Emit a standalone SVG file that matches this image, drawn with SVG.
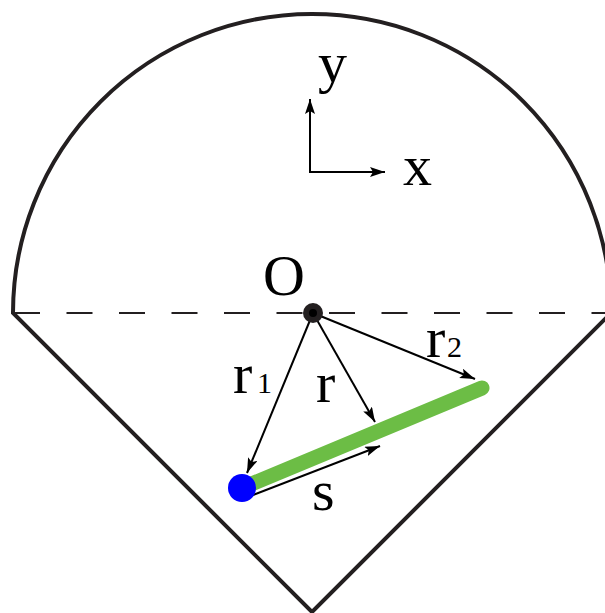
<svg xmlns="http://www.w3.org/2000/svg" width="605" height="613" viewBox="0 0 605 613">
<defs>
<style>
.lbl{font-family:"Liberation Serif","Times New Roman",serif;fill:#000}
.big{font-size:58px}
.sub{font-size:30px}
.arr{stroke:#000;stroke-width:2;fill:none;marker-end:url(#ah)}
</style>
<marker id="ah" markerUnits="userSpaceOnUse" markerWidth="16" markerHeight="12" refX="15" refY="5" orient="auto">
<path d="M0,0 L15,5 L0,10 L3,5 z" fill="#000"/>
</marker>
</defs>
<rect width="605" height="613" fill="#fff"/>
<g id="boundary">
<path d="M13,313 A299,299 0 0 1 611,313 L312,612 Z" fill="none" stroke="#231f20" stroke-width="4" stroke-linejoin="miter"/>
<line x1="14" y1="313" x2="605" y2="313" stroke="#231f20" stroke-width="2" stroke-dasharray="26 26.5"/>
</g>
<g id="axes">
<line class="arr" x1="310" y1="172" x2="310" y2="99"/>
<line class="arr" x1="309" y1="172" x2="385" y2="172"/>
<text class="lbl big" x="318" y="82">y</text>
<text class="lbl big" x="403" y="185">x</text>
</g>
<g id="segment">
<line x1="242" y1="488" x2="482" y2="388" stroke="#6cbd45" stroke-width="15" stroke-linecap="round"/>
</g>
<g id="connectors">
<line class="arr" x1="313" y1="313" x2="247" y2="473"/>
<line class="arr" x1="313" y1="313" x2="375" y2="422"/>
<line class="arr" x1="313" y1="313" x2="475" y2="379"/>
<line class="arr" x1="248" y1="497" x2="380" y2="446"/>
</g>
<g id="origin">
<circle cx="313" cy="313" r="10" fill="#231f20"/>
<circle cx="313" cy="313" r="4" fill="#000"/>
<text class="lbl big" x="263" y="295">O</text>
</g>
<g id="start">
<circle cx="242" cy="488" r="14" fill="#0000ff"/>
</g>
<g id="labels">
<text class="lbl big" x="233" y="393">r</text><text class="lbl sub" x="257" y="393">1</text>
<text class="lbl big" x="316" y="402">r</text>
<text class="lbl big" x="426" y="357">r</text><text class="lbl sub" x="447" y="357">2</text>
<text class="lbl big" x="312" y="510">s</text>
</g>
</svg>
